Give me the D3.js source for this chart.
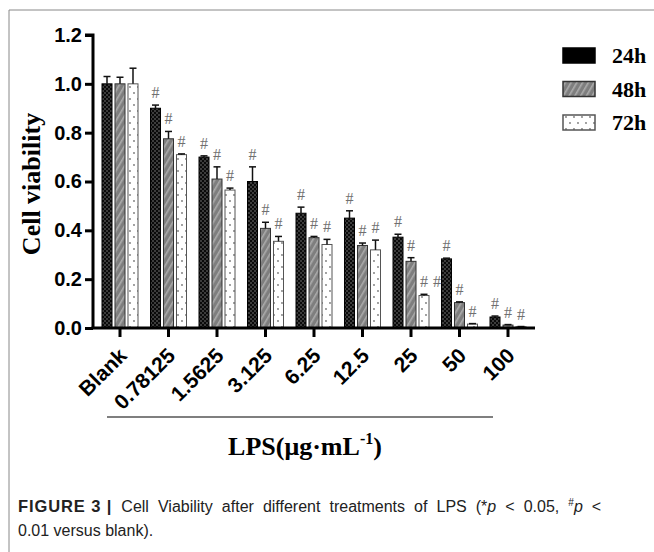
<!DOCTYPE html>
<html><head><meta charset="utf-8">
<script src="https://cdn.jsdelivr.net/npm/d3@7"></script>
<style>body{margin:0;background:#fff}svg{display:block}</style>
</head><body>
<script>
const categories = ["Blank","0.78125","1.5625","3.125","6.25","12.5","25","50","100"];
const seriesNames = ["24h","48h","72h"];
const v24 = [1.0, 0.90, 0.70, 0.60, 0.47, 0.45, 0.372, 0.283, 0.045];
const e24 = [0.03, 0.013, 0.005, 0.06, 0.025, 0.03, 0.012, 0.003, 0.004];
const v48 = [1.0, 0.775, 0.61, 0.408, 0.37, 0.338, 0.273, 0.104, 0.012];
const e48 = [0.027, 0.03, 0.05, 0.025, 0.005, 0.01, 0.015, 0.003, 0.002];
const v72 = [1.0, 0.71, 0.565, 0.355, 0.342, 0.32, 0.133, 0.016, 0.005];
const e72 = [0.064, 0.003, 0.008, 0.02, 0.021, 0.04, 0.005, 0.002, 0.001];
const sig24 = ["","#","#","#","#","#","#","#","#"];
const sig48 = ["","#","#","#","#","#","#","#","#"];
const sig72 = ["","#","#","#","#","#","#","#","#"];
const extraMarks = [{cat:"25", slot:3, value:0.133, err:0.005, label:"#"}];
const yTicks = [0,0.2,0.4,0.6,0.8,1.0,1.2];

const W=654,H=552;
const svg=d3.select("body").append("svg").attr("width",W).attr("height",H);
const defs=svg.append("defs");
// patterns
const p1=defs.append("pattern").attr("id","pat24").attr("patternUnits","userSpaceOnUse").attr("width",4).attr("height",4);
p1.append("rect").attr("width",4).attr("height",4).attr("fill","#0a0a0a");
p1.append("rect").attr("width",2).attr("height",2).attr("fill","#3c3c3c");
p1.append("rect").attr("x",2).attr("y",2).attr("width",2).attr("height",2).attr("fill","#3c3c3c");
const p2=defs.append("pattern").attr("id","pat48").attr("patternUnits","userSpaceOnUse").attr("width",5).attr("height",5).attr("patternTransform","rotate(30)");
p2.append("rect").attr("width",5).attr("height",5).attr("fill","#7e7e7e");
p2.append("rect").attr("x",0).attr("width",1.6).attr("height",5).attr("fill","#ababab");
const p3=defs.append("pattern").attr("id","pat72").attr("patternUnits","userSpaceOnUse").attr("width",8).attr("height",12);
p3.append("rect").attr("width",8).attr("height",12).attr("fill","#fff");
p3.append("circle").attr("cx",2).attr("cy",3).attr("r",0.9).attr("fill","#777");
p3.append("circle").attr("cx",6).attr("cy",9).attr("r",0.9).attr("fill","#777");

const fills={"24h":"url(#pat24)","48h":"url(#pat48)","72h":"url(#pat72)"};
const strokes={"24h":"#000","48h":"#333","72h":"#555"};

// frame
svg.append("line").attr("x1",9).attr("x2",W).attr("y1",10).attr("y2",10).attr("stroke","#888").attr("stroke-width",1);
svg.append("line").attr("x1",9).attr("x2",9).attr("y1",10).attr("y2",H).attr("stroke","#888").attr("stroke-width",1);

const y=d3.scaleLinear().domain([0,1.2]).range([328,35]);
const x0=d3.scaleBand().domain(categories).range([95.75,532.25]);
const x1=d3.scaleBand().domain(seriesNames).range([-18,18]).paddingInner(0.23);
const axX=93;

const data=[];
const vals={"24h":[v24,e24,sig24],"48h":[v48,e48,sig48],"72h":[v72,e72,sig72]};
categories.forEach((c,i)=>{
  seriesNames.forEach(s=>{
    data.push({cat:c,s:s,v:vals[s][0][i],e:vals[s][1][i],sig:vals[s][2][i]});
  });
});
const cx=d=>x0(d.cat)+x0.bandwidth()/2;

const g=svg.append("g");
g.selectAll("rect.bar").data(data).enter().append("rect").attr("class","bar")
  .attr("x",d=>cx(d)+x1(d.s)).attr("width",x1.bandwidth())
  .attr("y",d=>y(d.v)).attr("height",d=>y(0)-y(d.v))
  .attr("fill",d=>fills[d.s]).attr("stroke",d=>strokes[d.s]).attr("stroke-width",1);
// error bars
const eb=g.selectAll("g.err").data(data).enter().append("g").attr("class","err");
eb.append("line").attr("x1",d=>cx(d)+x1(d.s)+x1.bandwidth()/2).attr("x2",d=>cx(d)+x1(d.s)+x1.bandwidth()/2)
  .attr("y1",d=>y(d.v)).attr("y2",d=>y(d.v+d.e)).attr("stroke","#111").attr("stroke-width",1.5);
eb.append("line").attr("x1",d=>cx(d)+x1(d.s)+x1.bandwidth()/2-3.5).attr("x2",d=>cx(d)+x1(d.s)+x1.bandwidth()/2+3.5)
  .attr("y1",d=>y(d.v+d.e)).attr("y2",d=>y(d.v+d.e)).attr("stroke","#111").attr("stroke-width",1.5);
// significance marks
g.selectAll("text.sig").data(data.filter(d=>d.sig)).enter().append("text").attr("class","sig")
  .attr("x",d=>cx(d)+x1(d.s)+x1.bandwidth()/2).attr("y",d=>y(d.v+d.e)-7)
  .attr("text-anchor","middle").attr("font-family","Liberation Serif, serif").attr("font-size",16)
  .attr("fill","#707070").text(d=>d.sig);
g.selectAll("text.extra").data(extraMarks).enter().append("text").attr("class","extra")
  .attr("x",d=>x0(d.cat)+x0.bandwidth()/2+x1.step()*(d.slot-1)).attr("y",d=>y(d.value+d.err)-7)
  .attr("text-anchor","middle").attr("font-family","Liberation Serif, serif").attr("font-size",16)
  .attr("fill","#707070").text(d=>d.label);

// y axis
const ya=svg.append("g").attr("transform",`translate(${axX},0)`)
  .call(d3.axisLeft(y).tickValues(yTicks).tickFormat(d3.format(".1f")).tickSize(8).tickPadding(3));
ya.select(".domain").attr("stroke","#000").attr("stroke-width",3).attr("d",`M-8,${y(1.2)}H0V${y(0)}`);
ya.selectAll(".tick line").attr("stroke","#000").attr("stroke-width",3);
ya.selectAll(".tick text").attr("font-family","Liberation Sans, Arial, sans-serif").attr("font-weight","bold").attr("font-size",20).attr("fill","#000");

// x axis
const xa=svg.append("g").attr("transform",`translate(0,${y(0)})`)
  .call(d3.axisBottom(x0).tickSize(9).tickPadding(4));
xa.select(".domain").attr("stroke","#000").attr("stroke-width",3).attr("d",`M${axX-1.5},0H535`);
xa.selectAll(".tick line").attr("stroke","#000").attr("stroke-width",3);
xa.selectAll(".tick text").attr("font-family","Liberation Sans, Arial, sans-serif").attr("font-weight","bold").attr("font-size",21).attr("fill","#000")
  .attr("text-anchor","end").attr("x",0).attr("y",0).attr("dy","0").attr("transform","translate(8,29) rotate(-45)");

// separator line
svg.append("line").attr("x1",107).attr("x2",493).attr("y1",417).attr("y2",417).attr("stroke","#555").attr("stroke-width",1.5);

// axis titles
svg.append("text").attr("transform","translate(40,184) rotate(-90)").attr("text-anchor","middle")
  .attr("font-family","Liberation Serif, serif").attr("font-weight","bold").attr("font-size",26).text("Cell viability");
const xt=svg.append("text").attr("x",305).attr("y",455).attr("text-anchor","middle")
  .attr("font-family","Liberation Serif, serif").attr("font-weight","bold").attr("font-size",26);
xt.append("tspan").text("LPS(μg·mL");
xt.append("tspan").attr("font-size",16).attr("dy",-11).text("-1");
xt.append("tspan").attr("dy",11).text(")");

// legend
const lg=svg.append("g");
seriesNames.forEach((s,i)=>{
  const yy=48+i*33.5;
  lg.append("rect").attr("x",563).attr("y",yy).attr("width",32).attr("height",15)
    .attr("fill",s==="24h"?"#000":fills[s]).attr("stroke",strokes[s]).attr("stroke-width",1.5);
  lg.append("text").attr("x",612).attr("y",yy+15).attr("font-family","Liberation Serif, serif").attr("font-weight","bold")
    .attr("font-size",22).text(s);
});

// caption
const c1=svg.append("text").attr("x",18).attr("y",512).attr("font-family","Liberation Sans, Arial, sans-serif").attr("font-size",16).attr("fill","#222");
c1.append("tspan").attr("font-weight","bold").attr("letter-spacing",0.9).attr("font-size",16.5).text("FIGURE 3 |");
c1.append("tspan").attr("word-spacing",4.6).text(" Cell Viability after different treatments of LPS (*");
c1.append("tspan").attr("font-style","italic").text("p");
c1.append("tspan").attr("word-spacing",4.6).text(" < 0.05, ");
c1.append("tspan").attr("font-size",10).attr("dy",-6).text("#");
c1.append("tspan").attr("font-style","italic").attr("dy",6).text("p");
c1.append("tspan").attr("word-spacing",4.6).text(" <");
svg.append("text").attr("x",18).attr("y",536).attr("font-family","Liberation Sans, Arial, sans-serif").attr("font-size",16).attr("fill","#222")
  .text("0.01 versus blank).");
</script>
</body></html>
